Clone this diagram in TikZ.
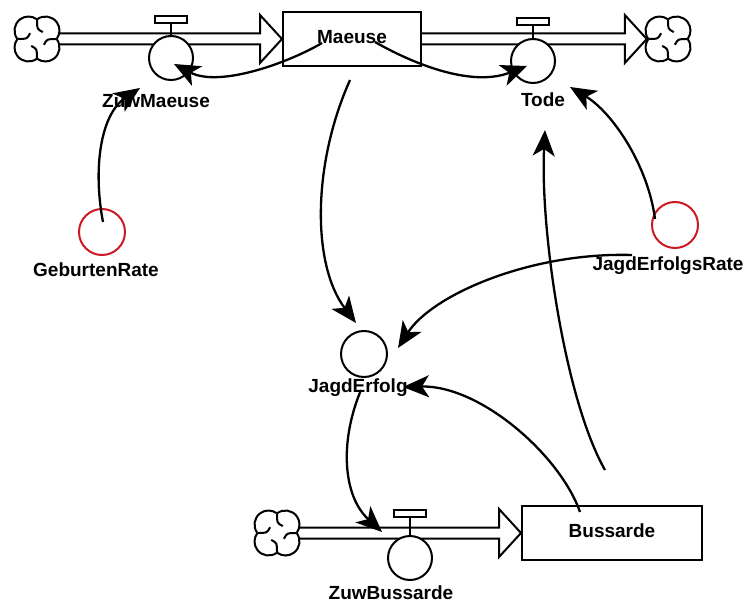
\documentclass[tikz,border=0pt]{standalone}
\usepackage{fontspec}
\setmainfont{Liberation Sans}
\usetikzlibrary{arrows.meta,calc}

\definecolor{auxred}{RGB}{205,25,35}

\tikzset{
        stock/.style={draw,line width=2pt,minimum width=#1,minimum height=54pt,inner sep=0pt},
        valve/.style={circle,draw,fill=white,line width=2pt,minimum size=44pt,inner sep=0pt},
        aux/.style={circle,draw,line width=2pt,minimum size=46pt,inner sep=0pt},
        handle/.style={draw,fill=white,line width=2pt,minimum width=32pt,minimum height=7pt,inner sep=0pt},
        source/.style={circle,minimum size=42pt,inner sep=0pt},
        pipe/.style={line width=2pt,line join=miter},
        infl/.style={line width=2.3pt,-{Stealth[length=26pt,width=22pt,inset=7pt]}},
        lbl/.style={font=\bfseries\fontsize{19}{21}\selectfont,inner sep=0pt,text height=13.5pt,text depth=4pt}
}

\newcommand{\flowpipe}[2]{%
        \draw[pipe] ($(#1)+(0,-5.5)$) -- ($(#2)+(-22,-5.5)$) -- ($(#2)+(-22,-24)$) -- (#2)
                -- ($(#2)+(-22,24)$) -- ($(#2)+(-22,5.5)$) -- ($(#1)+(0,5.5)$);}
\newcommand{\cloudsym}[1]{%
        \foreach \a in {45,135,225,315}{
                \draw[pipe] ($(#1)+(\a:12)+(\a-82:14)$) arc[start angle=\a-82,end angle=\a+82,radius=14];
                \draw[pipe] ($(#1)+(\a+45:19)$) .. controls ($(#1)+(\a+45:10)$) .. ($(#1)+(\a+85:9)$);
        }}

\begin{document}
\begin{tikzpicture}[x=1pt,y=-1pt]
        \useasboundingbox (0,0) rectangle (747,607);
        \node[source] (srcM) at (37,39) {};
        \node[source] (sinkM) at (668,39) {};
        \node[source] (srcB) at (277,533) {};
        \cloudsym{srcM}
        \cloudsym{sinkM}
        \cloudsym{srcB}
        \node[stock=138pt,lbl] (maeuse) at (352,39) {Maeuse};
        \node[stock=180pt,lbl] (bussarde) at (612,533) {Bussarde};
        \flowpipe{srcM.east}{maeuse.west}
        \flowpipe{maeuse.east}{sinkM.west}
        \flowpipe{srcB.east}{bussarde.west}
        \node[valve] (zuwm) at (171,58) {};
        \node[valve] (tode) at (533,61) {};
        \node[valve] (zuwb) at (410,558) {};
        \foreach \v/\h in {zuwm/11,tode/12,zuwb/17}
                \draw[pipe] (\v.north) -- ++(0,-\h) node[handle,anchor=south] (\v-top) {};
        \node[lbl] (zuwmL) at (156,103) {ZuwMaeuse};
        \node[lbl] (todeL) at (543,102) {Tode};
        \node[lbl] (zuwbL) at (391,595) {ZuwBussarde};
        \node[aux,draw=auxred] (geb) at (102,232) {};
        \node[lbl] (gebL) at (96,272) {GeburtenRate};
        \node[aux,draw=auxred] (jrate) at (675,225) {};
        \node[lbl] (jrateL) at (668,266) {JagdErfolgsRate};
        \node[aux] (jagd) at (364,354) {};
        \node[lbl] (jagdL) at (358,388) {JagdErfolg};
        \draw[infl] ($(maeuse)+(-30,4)$) .. controls +(-32,19) and +(46,24) .. ($(zuwm)+(3,6)$);
        \draw[infl] ($(maeuse)+(23,3)$) .. controls +(35,20) and +(-57,22) .. ($(tode)+(-6,5)$);
        \draw[infl] ($(geb)+(1,-10)$) .. controls +(-10,-52) and +(-40,27) .. ($(zuwm)+(-31,30)$);
        \draw[infl] ($(maeuse)+(-2,41)$) .. controls +(-38,85) and +(-44,-58) .. ($(jagd)+(-8,-31)$);
        \draw[infl] ($(jrate)+(-43,30)$) .. controls +(-102,-3) and +(34,-53) .. ($(jagd)+(34,-6)$);
        \draw[infl] ($(jrate)+(-20,-6)$) .. controls +(-7,-54) and +(42,25) .. ($(tode)+(37,26)$);
        \draw[infl] ($(bussarde)+(-7,-63)$) .. controls +(-40,-70) and +(-5,100) .. ($(tode)+(12,69)$);
        \draw[infl] ($(bussarde)+(-32,-21)$) .. controls +(-20,-57) and +(77,-2) .. ($(jagd)+(39,33)$);
        \draw[infl] ($(jagd)+(-3,36)$) .. controls +(-21,50) and +(-40,-37) .. ($(zuwb)+(-28,-26)$);
\end{tikzpicture}
\end{document}
